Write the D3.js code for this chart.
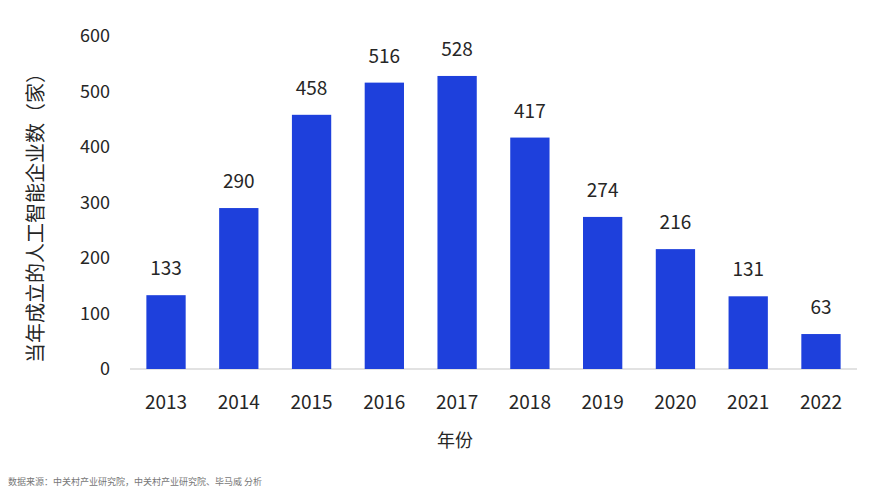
<!DOCTYPE html>
<html>
<head>
<meta charset="utf-8">
<script src="https://cdn.jsdelivr.net/npm/d3@7"></script>
<style>
  body { margin: 0; background: #fff; }
  svg text { font-family: "Noto Sans CJK SC", "Noto Sans", sans-serif; }
</style>
</head>
<body>
<svg id="chart"></svg>
<script>
const years = ["2013", "2014", "2015", "2016", "2017", "2018", "2019", "2020", "2021", "2022"];
const counts = [133, 290, 458, 516, 528, 417, 274, 216, 131, 63];
const yTicks = [0, 100, 200, 300, 400, 500, 600];

const yLabel = "当年成立的人工智能企业数（家）";
const xLabel = "年份";
const source = "数据来源：中关村产业研究院，中关村产业研究院、毕马威 分析";

const width = 873;
const height = 490;
const barColor = "#1e40dc";
const textColor = "#262626";

const svg = d3.select("#chart")
    .attr("width", width)
    .attr("height", height);

const x = d3.scaleBand()
    .domain(years)
    .range([130, 857])
    .paddingInner(0.46)
    .paddingOuter(0.225);

const y = d3.scaleLinear()
    .domain([0, 600])
    .range([369, 36]);

// baseline
svg.append("line")
    .attr("x1", 130)
    .attr("x2", 857)
    .attr("y1", y(0))
    .attr("y2", y(0))
    .attr("stroke", "#d9d9d9")
    .attr("stroke-width", 1.5);

// y tick labels, no axis line
svg.selectAll(".ytick")
    .data(yTicks)
    .join("text")
    .attr("class", "ytick")
    .attr("x", 110)
    .attr("y", d => y(d))
    .attr("dy", "0.35em")
    .attr("text-anchor", "end")
    .attr("font-size", 18)
    .attr("fill", textColor)
    .text(d => d);

// bars
svg.selectAll(".bar")
    .data(counts)
    .join("rect")
    .attr("class", "bar")
    .attr("x", (d, i) => x(years[i]))
    .attr("width", x.bandwidth())
    .attr("y", d => y(d))
    .attr("height", d => y(0) - y(d))
    .attr("fill", barColor);

// value labels
svg.selectAll(".val")
    .data(counts)
    .join("text")
    .attr("class", "val")
    .attr("x", (d, i) => x(years[i]) + x.bandwidth() / 2)
    .attr("y", d => y(d) - 20)
    .attr("text-anchor", "middle")
    .attr("font-size", 19)
    .attr("fill", textColor)
    .text(d => d);

// x tick labels
svg.selectAll(".xtick")
    .data(years)
    .join("text")
    .attr("class", "xtick")
    .attr("x", d => x(d) + x.bandwidth() / 2)
    .attr("y", 402)
    .attr("dy", "0.35em")
    .attr("text-anchor", "middle")
    .attr("font-size", 19)
    .attr("fill", textColor)
    .text(d => d);

// axis titles
svg.append("text")
    .attr("x", 455)
    .attr("y", 441)
    .attr("dy", "0.35em")
    .attr("text-anchor", "middle")
    .attr("font-size", 18)
    .attr("fill", textColor)
    .text(xLabel);

svg.append("text")
    .attr("transform", "translate(36,213) rotate(-90)")
    .attr("dy", "0.35em")
    .attr("text-anchor", "middle")
    .attr("font-size", 20)
    .attr("fill", textColor)
    .text(yLabel);

// source note
svg.append("text")
    .attr("x", 8)
    .attr("y", 482)
    .attr("dy", "0.35em")
    .attr("font-size", 9)
    .attr("fill", "#777")
    .text(source);
</script>
</body>
</html>
